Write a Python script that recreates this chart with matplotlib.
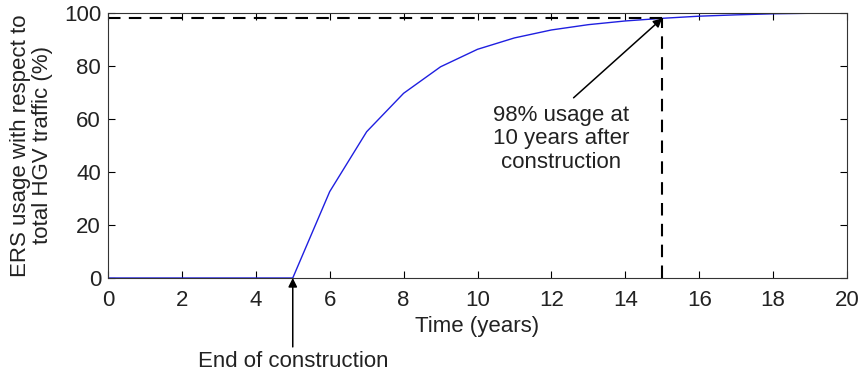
import matplotlib.pyplot as plt

plt.rcParams['font.family'] = ['Liberation Sans', 'DejaVu Sans']

years = [0, 1, 2, 3, 4, 5, 6, 7, 8, 9, 10, 11, 12, 13, 14, 15, 16, 17, 18, 19, 20]
usage = [0, 0, 0, 0, 0, 0, 32.6, 55.2, 69.7, 79.7, 86.3, 90.6, 93.6, 95.6, 97.0, 98.0,
         98.8, 99.3, 99.7, 99.9, 100]

end_construction = 5
target_year = 15
target_usage = 98

fig = plt.figure(figsize=(8.62, 3.79), dpi=100)
ax = fig.add_axes([0.1253, 0.2665, 0.8573, 0.6992])

ax.plot(years, usage, color='#1f1fe0', lw=1.0)

# dashed guides to the 98% point
ax.plot([0, target_year], [target_usage, target_usage], color='black', lw=1.5,
        linestyle=(0, (6, 4)))
ax.plot([target_year, target_year], [0, target_usage], color='black', lw=1.5,
        linestyle=(0, (6, 4)))

ax.set_xlim(0, 20)
ax.set_ylim(0, 100)
ax.set_xticks(range(0, 21, 2))
ax.set_yticks(range(0, 101, 20))
ax.tick_params(direction='in', top=True, right=True, labelsize=16, length=5,
               width=0.8, labelcolor='#222222')
ax.tick_params(axis='x', pad=9)
ax.tick_params(axis='y', pad=5)
for s in ax.spines.values():
    s.set_linewidth(0.8)
    s.set_color('#333333')

ax.set_xlabel('Time (years)', fontsize=16, labelpad=3, color='#222222')
ax.set_ylabel('ERS usage with respect to\ntotal HGV traffic (%)', fontsize=16,
              labelpad=8, linespacing=1.05, color='#222222')

arrow = dict(arrowstyle='-|>', color='black', lw=1.1, mutation_scale=13,
             shrinkA=0, shrinkB=0)

ax.text(12.26, 52.5, '98% usage at\n10 years after\nconstruction', ha='center',
        va='center', fontsize=16, linespacing=1.15, color='#222222')
ax.annotate('', xy=(target_year, target_usage), xytext=(12.6, 68), arrowprops=arrow)

ax.annotate('', xy=(end_construction, 0), xytext=(end_construction, -26),
            annotation_clip=False, arrowprops=arrow)
ax.text(end_construction, -31.5, 'End of construction', ha='center', va='center',
        fontsize=16, color='#222222', clip_on=False)

fig.savefig('out.png', dpi=100)
